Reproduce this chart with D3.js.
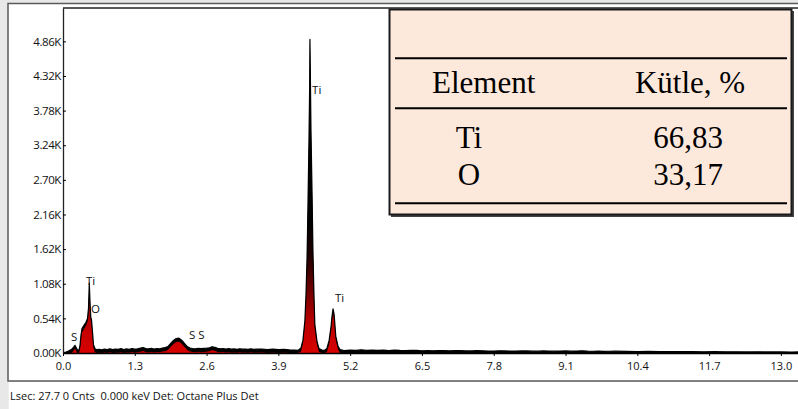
<!DOCTYPE html>
<html><head><meta charset="utf-8">
<script src="https://cdn.jsdelivr.net/npm/d3@7"></script>
<style>body{margin:0;background:#fff;} svg{display:block;}</style>
</head><body><svg id="c" width="798" height="409"></svg>
<script>
// ---- data (keV, counts) ----
const spectrum = [
 [0.000,0],[0.054,15],[0.109,35],[0.163,60],[0.200,100],[0.217,120],[0.235,90],[0.260,50],[0.290,45],
 [0.308,120],[0.326,280],[0.344,380],[0.380,430],[0.416,480],[0.444,540],[0.462,700],[0.476,1090],
 [0.489,800],[0.503,560],[0.516,520],[0.534,330],[0.552,130],[0.580,65],[0.615,50],
 [0.65,58],[0.70,48],[0.75,62],[0.80,55],[0.85,66],[0.90,52],[0.95,60],[1.00,57],[1.05,68],[1.10,55],
 [1.15,63],[1.20,58],[1.25,70],[1.30,60],[1.35,66],[1.40,75],[1.45,85],[1.50,70],[1.55,64],[1.60,72],
 [1.65,62],[1.70,70],[1.75,66],[1.80,78],[1.85,84],[1.90,100],[1.95,150],[2.00,195],[2.05,225],
 [2.10,232],[2.15,200],[2.20,150],[2.25,100],[2.30,78],[2.35,70],[2.40,66],[2.45,74],[2.50,68],
 [2.55,72],[2.60,76],[2.65,82],[2.70,98],[2.75,90],[2.80,72],[2.85,66],[2.90,70],[2.95,62],[3.00,68],
 [3.05,60],[3.10,64],[3.15,58],[3.20,66],[3.25,60],[3.30,62],[3.35,56],[3.40,66],[3.45,58],[3.50,60],
 [3.60,62],[3.70,54],[3.80,60],[3.90,52],[4.00,58],[4.10,48],[4.20,45],
 [4.255,40],[4.31,80],[4.345,200],[4.38,500],[4.40,900],[4.42,1500],[4.436,2300],[4.454,3300],
 [4.467,4200],[4.472,4890],[4.480,4300],[4.490,3500],[4.510,2500],[4.526,1600],[4.545,900],
 [4.560,450],[4.600,180],[4.635,70],[4.690,45],[4.730,40],
 [4.78,70],[4.82,200],[4.855,420],[4.870,560],[4.890,690],[4.910,600],[4.925,430],[4.940,260],
 [4.980,110],[5.015,55],[5.09,38],
 [5.2,45],[5.3,40],[5.4,50],[5.5,40],[5.6,46],[5.7,40],[5.8,45],[5.9,38],[6.0,44],[6.1,40],[6.2,38],
 [6.3,42],[6.4,40],[6.5,35],[6.6,39],[6.7,34],[6.8,38],[6.9,36],[7.0,34],[7.1,37],[7.2,36],[7.3,33],
 [7.4,32],[7.5,36],[7.6,35],[7.7,31],[7.8,30],[7.9,34],[8.0,33],[8.1,30],[8.2,30],[8.3,33],[8.4,32],
 [8.5,29],[8.6,28],[8.7,32],[8.8,31],[8.9,29],[9.0,30],[9.1,33],[9.2,28],[9.3,30],[9.4,34],[9.5,29],
 [9.6,27],[9.7,30],[9.8,25],[9.9,27],[10.0,28],[10.2,24],[10.4,22],[10.6,25],[10.8,22],[11.0,20],
 [11.2,22],[11.4,20],[11.6,18],[11.8,20],[12.0,18],[12.2,19],[12.4,17],[12.6,18],[12.8,16],[13.0,17],
 [13.2,15],[13.31,16]
];
const xTicks = [0.0,1.3,2.6,3.9,5.2,6.5,7.8,9.1,10.4,11.7,13.0];
const yTicks = [0,540,1080,1620,2160,2700,3240,3780,4320,4860];
const peakLabelText = ["S","Ti","O","S S","Ti","Ti"];
const peakLabelEnergy = [0.145,0.416,0.507,2.28,4.51,4.925];
const peakLabelCounts = [187,1061,624,218,4042,796];
const tableHeader = ["Element","Kütle, %"];
const tableElements = ["Ti","O"];
const tableMass = ["66,83","33,17"];
const footer = "Lsec: 27.7 0 Cnts  0.000 keV Det: Octane Plus Det";

// ---- drawing ----
const svg = d3.select("#c");
const W = 798, H = 409;
const plotL = 63, plotR = 798, plotT = 8, plotB = 353;
const x = d3.scaleLinear().domain([0, 13.31]).range([plotL, plotR]);
const y = d3.scaleLinear().domain([0, 5380]).range([plotB, plotT]);

// page background with panel
svg.append("rect").attr("width", W).attr("height", H).attr("fill", "#e8e8e8");
svg.append("rect").attr("x", 8).attr("y", 3.5).attr("width", W).attr("height", 377.5)
  .attr("fill", "#fff").attr("stroke", "#5a5a5a").attr("stroke-width", 1.5);
svg.append("rect").attr("x", 8.75).attr("y", 382).attr("width", W).attr("height", H - 382).attr("fill", "#fff");

const defs = svg.append("defs");
defs.append("clipPath").attr("id", "clip").append("rect")
  .attr("x", plotL).attr("y", plotT).attr("width", plotR - plotL).attr("height", plotB - plotT);
const grad = defs.append("linearGradient").attr("id", "pk")
  .attr("gradientUnits", "userSpaceOnUse").attr("x1", 0).attr("x2", 0)
  .attr("y1", y(0)).attr("y2", y(5380));
[[0, "#d80000"], [0.09, "#bb0000"], [0.18, "#700000"], [0.28, "#200000"], [0.38, "#000"], [1, "#000"]]
  .forEach(([o, c]) => grad.append("stop").attr("offset", o).attr("stop-color", c));

// plot frame (top)
svg.append("line").attr("x1", plotL).attr("x2", plotR).attr("y1", plotT).attr("y2", plotT)
  .attr("stroke", "#222").attr("stroke-width", 1.5);

const g = svg.append("g").attr("clip-path", "url(#clip)");
const bg = 55; // black rim thickness in counts (background band stays black)
const areaBlack = d3.area().x(d => x(d[0])).y0(y(0)).y1(d => y(d[1]));
const areaRed = d3.area().x(d => x(d[0])).y0(y(0)).y1(d => y(Math.max(0, d[1] - bg)));
const line = d3.line().x(d => x(d[0])).y(d => y(d[1]));
g.append("path").datum(spectrum).attr("d", areaBlack).attr("fill", "#000");
g.append("path").datum(spectrum).attr("d", areaRed).attr("fill", "url(#pk)");
g.append("path").datum(spectrum).attr("d", line).attr("fill", "none")
  .attr("stroke", "#000").attr("stroke-width", 1.2).attr("stroke-linejoin", "round");

// axes
const fontTick = "'Open Sans', 'Noto Sans', sans-serif";
const xAxis = svg.append("g").attr("transform", `translate(0,${plotB})`)
  .call(d3.axisBottom(x).tickValues(xTicks).tickFormat(d3.format(".1f")).tickSizeInner(3).tickSizeOuter(0).tickPadding(6));
xAxis.select(".domain").attr("stroke", "#000").attr("stroke-width", 1.6);
xAxis.selectAll("text").attr("font-family", fontTick).attr("font-size", 11).attr("fill", "#111");

const yAxis = svg.append("g").attr("transform", `translate(${plotL},0)`)
  .call(d3.axisLeft(y).tickValues(yTicks).tickFormat(d => (d / 1000).toFixed(2) + "K").tickSizeInner(-3).tickSizeOuter(0).tickPadding(2));
yAxis.select(".domain").attr("stroke", "#222").attr("stroke-width", 1.3);
yAxis.selectAll("text").attr("font-family", fontTick).attr("font-size", 11.5).attr("fill", "#111").attr("letter-spacing", "-0.4");

// peak labels
svg.append("g").selectAll("text").data(peakLabelText).join("text")
  .attr("x", (d, i) => x(peakLabelEnergy[i])).attr("y", (d, i) => y(peakLabelCounts[i]))
  .attr("font-family", fontTick).attr("font-size", 11.5).attr("fill", "#111")
  .style("white-space", "pre").text(d => d);

// footer
svg.append("text").attr("x", 10).attr("y", 400).attr("font-family", fontTick).attr("font-size", 11)
  .attr("fill", "#111").style("white-space", "pre").text(footer);

// table
const tb = svg.append("g");
tb.append("rect").attr("x", 391).attr("y", 11).attr("width", 403).attr("height", 206).attr("fill", "#444");
tb.append("rect").attr("x", 389.5).attr("y", 9.5).attr("width", 402).attr("height", 205)
  .attr("fill", "#fde9dc").attr("stroke", "#1a1a1a").attr("stroke-width", 2);
[58.3, 108.3, 203.3].forEach(yy => tb.append("line").attr("x1", 395).attr("x2", 787)
  .attr("y1", yy).attr("y2", yy).attr("stroke", "#000").attr("stroke-width", 2));
const serif = "'Liberation Serif', 'Times New Roman', serif";
tb.append("text").attr("x", 432).attr("y", 93).attr("font-family", serif).attr("font-size", 31).text(tableHeader[0]);
tb.append("text").attr("x", 690).attr("y", 93).attr("text-anchor", "middle").attr("font-family", serif).attr("font-size", 31).text(tableHeader[1]);
const rowY = [148, 185];
tb.selectAll("text.el").data(tableElements).join("text").attr("class", "el")
  .attr("x", 469).attr("y", (d, i) => rowY[i]).attr("text-anchor", "middle")
  .attr("font-family", serif).attr("font-size", 31).text(d => d);
tb.selectAll("text.ms").data(tableMass).join("text").attr("class", "ms")
  .attr("x", 688).attr("y", (d, i) => rowY[i]).attr("text-anchor", "middle")
  .attr("font-family", serif).attr("font-size", 31).text(d => d);
</script></body></html>
